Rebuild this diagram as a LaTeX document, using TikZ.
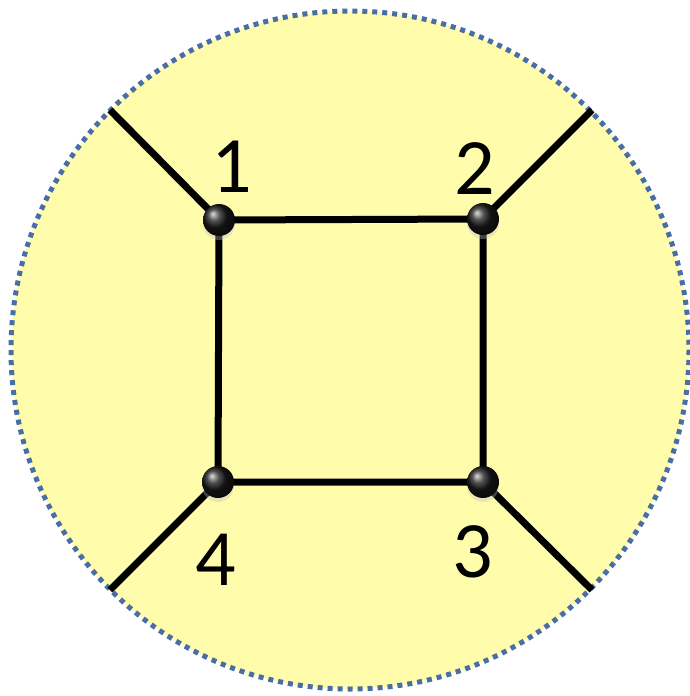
\documentclass[tikz,border=0pt]{standalone}
\usepackage{fontspec}
\setmainfont{Carlito}
\usetikzlibrary{shadows}
\definecolor{diskyellow}{RGB}{255,252,172}
\definecolor{rimblue}{RGB}{72,110,165}
\tikzset{
  vertex/.style={circle, inner sep=0pt, minimum size=32pt, shading=ball, ball color=black!90,
    drop shadow={shadow xshift=0pt, shadow yshift=-4pt, fill=black!25, opacity=0.35}},
  edge/.style={line width=7pt},
  lbl/.style={font=\fontsize{80}{80}\selectfont}
}
\begin{document}
\begin{tikzpicture}[x=1pt,y=-1pt]
        \useasboundingbox (0,0) rectangle (690,696);

        % 圆盘
        \fill[diskyellow] (350,350) circle (339);
        \draw[rimblue, line width=5pt, dash pattern=on 5pt off 5pt] (350,350) circle (339);

        % 外部端点
        \coordinate (e1) at (110,110);
        \coordinate (e2) at (592,110);
        \coordinate (e3) at (592,590);
        \coordinate (e4) at (110,590);

        % 顶点
        \path (219,220) coordinate (p1) (483,219) coordinate (p2)
              (483,482) coordinate (p3) (218,482) coordinate (p4);

        % 边
        \draw[edge] (p1) -- (p2) -- (p3) -- (p4) -- cycle;
        \foreach \i in {1,...,4}
            \draw[edge] (p\i) -- (e\i);

        \foreach \i in {1,...,4}
            \node[vertex] (v\i) at (p\i) {};

        % 标注
        \node[lbl] (l1) at (232,167) {1};
        \node[lbl] (l2) at (475,169) {2};
        \node[lbl] (l3) at (473,552) {3};
        \node[lbl] (l4) at (216,560) {4};
    \end{tikzpicture}
\end{document}
